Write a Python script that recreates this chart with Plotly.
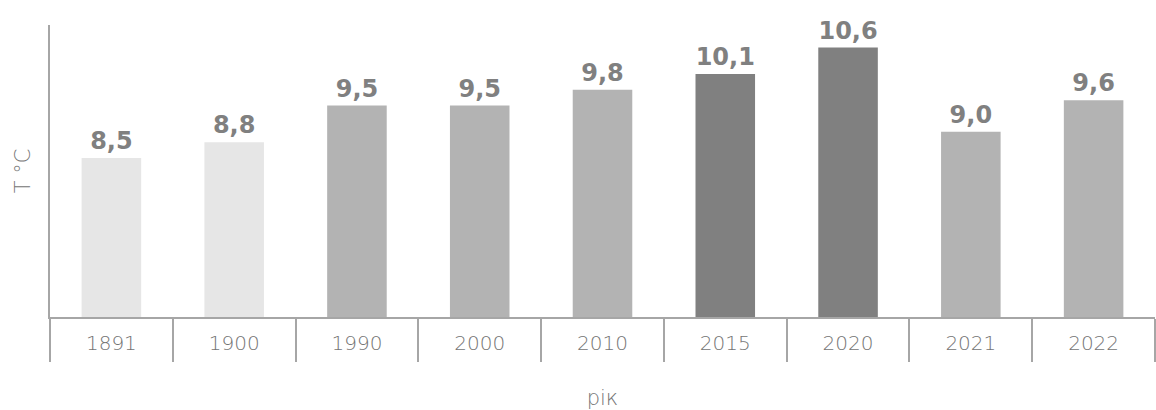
import plotly.graph_objects as go

years = ["1891", "1900", "1990", "2000", "2010", "2015", "2020", "2021", "2022"]
temps = [8.5, 8.8, 9.5, 9.5, 9.8, 10.1, 10.6, 9.0, 9.6]
bar_colors = ["#e6e6e6", "#e6e6e6", "#b3b3b3", "#b3b3b3", "#b3b3b3",
              "#808080", "#808080", "#b3b3b3", "#b3b3b3"]
labels = [f"{v:.1f}".replace(".", ",") for v in temps]

axis_color = "#a6a6a6"
text_color = "#808080"
light_text = "#747474"

fig = go.Figure(
    go.Bar(
        x=years,
        y=temps,
        marker=dict(color=bar_colors, line=dict(width=0)),
        text=labels,
        textposition="outside",
        cliponaxis=False,
        textfont=dict(family="DejaVu Sans", size=24, color=text_color, weight="bold"),
        hoverinfo="skip",
    )
)

fig.update_layout(
    width=1156,
    height=410,
    margin=dict(l=50, r=1, t=25, b=93, autoexpand=False),
    paper_bgcolor="white",
    plot_bgcolor="white",
    bargap=0.515,
    showlegend=False,
    xaxis=dict(
        type="category",
        automargin=False,
        showline=True,
        linecolor=axis_color,
        linewidth=2,
        ticks="outside",
        tickson="boundaries",
        ticklen=43,
        tickwidth=2,
        tickcolor=axis_color,
        ticklabelstandoff=7,
        tickfont=dict(family="DejaVu Sans", size=20, color=light_text, weight=200),
        showgrid=False,
        title=dict(text="рік", standoff=38,
                   font=dict(family="DejaVu Sans", size=21, color=light_text, weight=200)),
    ),
    yaxis=dict(
        range=[5.48, 11.03],
        automargin=False,
        showline=True,
        linecolor=axis_color,
        linewidth=2,
        showticklabels=False,
        ticks="",
        showgrid=False,
        zeroline=False,
        title=dict(text="T °C", standoff=12,
                   font=dict(family="DejaVu Sans", size=21, color=light_text, weight=200)),
    ),
)

fig.write_html("out.html")
